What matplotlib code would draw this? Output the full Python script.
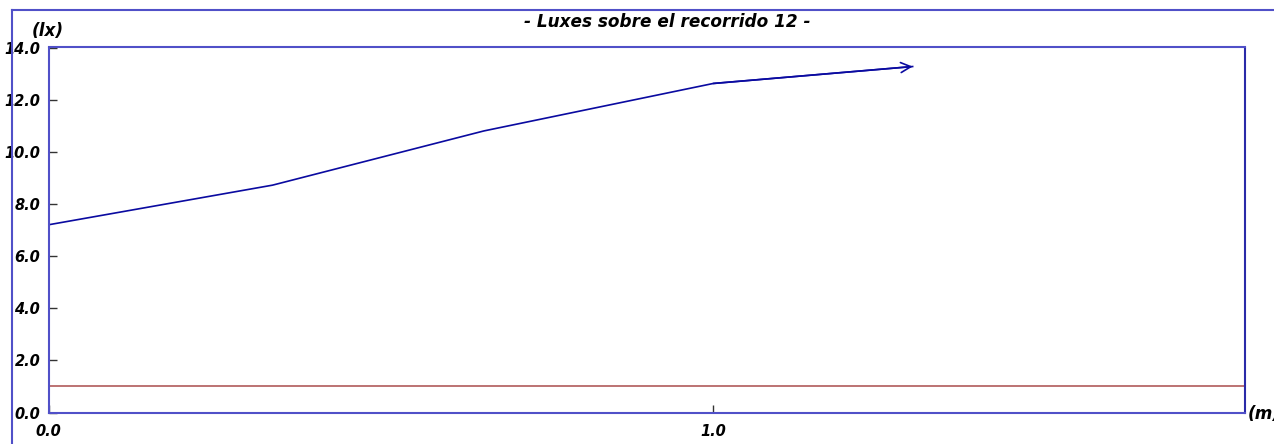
import matplotlib
matplotlib.use("Agg")
import matplotlib.pyplot as plt
from matplotlib.lines import Line2D

# Illuminance along the path
distance_m = [0.0, 0.337, 0.655, 1.0, 1.3]
lux = [7.2, 8.72, 10.8, 12.62, 13.27]

# Minimum reference level
min_level = 1.0
x_range = [0.0, 1.8]
y_range = [0.0, 14.0]

y_ticks = [0.0, 2.0, 4.0, 6.0, 8.0, 10.0, 12.0, 14.0]
x_ticks = [0.0, 1.0]

title = "- Luxes sobre el recorrido 12 -"
y_unit = "(lx)"
x_unit = "(m)"

W, H = 1274, 444
fig = plt.figure(figsize=(W / 100, H / 100), dpi=100)
font = dict(family="DejaVu Sans", weight="bold", style="italic", size=10.5)
label_font = dict(font, size=12.2)

ax = fig.add_axes([48.5 / W, 1 - 412.5 / H, (1245 - 48.5) / W, (412.5 - 47.5) / H])
ax.set_xlim(*x_range)
ax.set_ylim(*y_range)

ax.plot(x_range, [min_level, min_level], color="#b05a5a", lw=1.2)
ax.plot(distance_m, lux, color="#0a0aa0", lw=1.2)
ax.annotate("", xy=(distance_m[-1], lux[-1]),
            xytext=(distance_m[-2], lux[-2]),
            arrowprops=dict(arrowstyle="->", color="#0a0aa0", lw=1.2,
                            mutation_scale=18, shrinkA=0, shrinkB=0))

for side in ["left", "right", "top", "bottom"]:
    ax.spines[side].set_color("#5050c8")
    ax.spines[side].set_linewidth(1.5)
ax.spines["right"].set_color("#2a2aa8")

ax.set_yticks(y_ticks)
ax.set_yticklabels([f"{v:.1f}" for v in y_ticks], fontdict=font)
ax.set_xticks(x_ticks)
ax.set_xticklabels([f"{v:.1f}" for v in x_ticks], fontdict=font)
ax.tick_params(axis="y", direction="in", length=6, width=1, color="#333333", pad=6)
ax.tick_params(axis="x", direction="in", length=6, width=1, color="#333333", pad=8)

fig.text(667 / W, 1 - 22 / H, title, ha="center", va="center", fontdict=label_font)
fig.text(48 / W, 1 - 31 / H, y_unit, ha="center", va="center", fontdict=label_font)
fig.text(1248 / W, 1 - 414 / H, x_unit, ha="left", va="center", fontdict=label_font)

# Outer frame, running off the right and bottom edges
frame_kw = dict(color="#5050c8", lw=1.5, transform=fig.transFigure)
fig.add_artist(Line2D([12 / W, 1.01], [1 - 10 / H, 1 - 10 / H], **frame_kw))
fig.add_artist(Line2D([12 / W, 12 / W], [1 - 10 / H, -0.01], **frame_kw))

fig.savefig("out.png", dpi=100)
